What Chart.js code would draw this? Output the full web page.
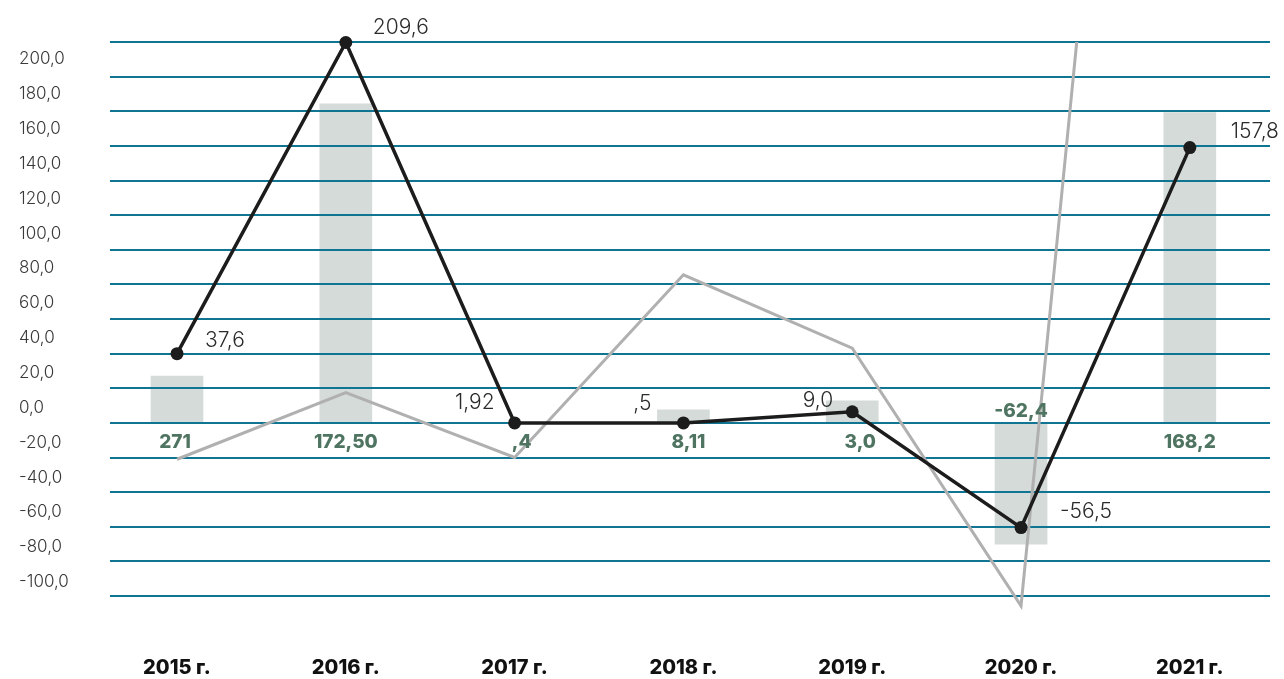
<!DOCTYPE html>
<html>
<head>
<meta charset="utf-8">
<script src="https://cdn.jsdelivr.net/npm/chart.js@4"></script>
<style>
  html, body { margin: 0; padding: 0; background: #fff; }
  #wrap { width: 1284px; height: 679px; }
</style>
</head>
<body>
<div id="wrap"><canvas id="chart"></canvas></div>
<script>
// Values.
const years = ['2015 г.', '2016 г.', '2017 г.', '2018 г.', '2019 г.', '2020 г.', '2021 г.'];
const barValues = [27.1, 184.3, null, 7.5, 12.7, -70.1, 179.3];
const barLabels = ['271', '172,50', ',4', '8,11', '3,0', '-62,4', '168,2'];
const blackValues = [40.0, 219.7, 0, 0, 6.4, -60.5, 159.0];
const blackLabels = ['37,6', '209,6', '1,92', ',5', '9,0', '-56,5', '157,8'];
const greyValues = [-21.0, 17.5, -20.0, 85.5, 43.2, -105.7, 881];

// Label placement around each point (style only): dx, dy, align.
const lineLabelPlace = [
  [28, -13, 'left'], [27, -15, 'left'], [-20, -20, 'right'], [-32, -19, 'right'],
  [-19, -11, 'right'], [39, -16, 'left'], [41, -16, 'left']
];
const barLabelShift = [-2, 0, 7, 5, 8, 0, 0];

const TEAL = '#107592';
const fmt = (v) => v.toFixed(1).replace('.', ',');
const xy = (vals) => vals.map((v, i) => ({ x: i, y: v }));

const valueLabels = {
  id: 'valueLabels',
  // gridlines sit over the bars but under the lines
  afterDatasetDraw(chart, args) {
    if (args.meta.type === 'bar') chart.scales.y.drawGrid(chart.chartArea);
  },
  afterDatasetsDraw(chart) {
    const { ctx, scales: { x, y } } = chart;
    const zero = y.getPixelForValue(0);
    ctx.save();
    ctx.textBaseline = 'middle';
    ctx.textAlign = 'center';
    ctx.font = '800 19px Inter';
    ctx.fillStyle = '#4f7461';
    barLabels.forEach((t, i) => {
      const v = barValues[i];
      const py = v !== null && v < 0 ? zero - 12 : zero + 19;
      ctx.fillText(t, x.getPixelForValue(i) + barLabelShift[i], py);
    });
    const pts = chart.getDatasetMeta(2).data;
    ctx.font = '300 21px Inter';
    ctx.fillStyle = '#2b2b2b';
    blackLabels.forEach((t, i) => {
      const [dx, dy, align] = lineLabelPlace[i];
      ctx.textAlign = align;
      ctx.fillText(t, pts[i].x + dx, pts[i].y + dy);
    });
    ctx.restore();
  }
};

new Chart(document.getElementById('chart'), {
  type: 'bar',
  data: {
    datasets: [
      {
        type: 'bar', data: xy(barValues), backgroundColor: '#d5dbd9',
        barThickness: 52, order: 3
      },
      {
        type: 'line', data: xy(greyValues), borderColor: '#b0b0b0', borderWidth: 3,
        pointRadius: 0, tension: 0, order: 2,
        clip: { left: false, top: 0, right: false, bottom: false }
      },
      {
        type: 'line', data: xy(blackValues), borderColor: '#1c1c1c', borderWidth: 3.5,
        pointRadius: 6.5, pointBorderWidth: 0, pointBackgroundColor: '#1c1c1c',
        tension: 0, order: 1, clip: false
      }
    ]
  },
  options: {
    responsive: true, maintainAspectRatio: false, animation: false,
    layout: { padding: { left: 19, top: 42, right: 14, bottom: 0 } },
    plugins: { legend: { display: false }, tooltip: { enabled: false } },
    scales: {
      x: {
        type: 'linear', min: -0.397, max: 6.475, offset: false,
        grid: { display: false }, border: { display: false },
        afterFit: (s) => { s.height = 83; },
        ticks: {
          stepSize: 1, includeBounds: false, autoSkip: false, maxRotation: 0, padding: 52,
          color: '#111', font: { family: 'Inter', size: 20, weight: '800' },
          callback: (v) => Number.isInteger(v) ? years[v] : ''
        }
      },
      y: {
        min: -100, max: 220,
        grid: { color: TEAL, lineWidth: 2, drawTicks: false },
        border: { display: false },
        ticks: { display: false, stepSize: 20 },
        afterFit: (s) => { s.width = 0; }
      },
      y2: {
        position: 'left', min: -108.0, max: 209.8,
        grid: { display: false, drawTicks: false }, border: { display: false },
        afterFit: (s) => { s.width = 91; },
        ticks: {
          stepSize: 20, includeBounds: false, crossAlign: 'far', padding: 0,
          color: '#3a3a3a', font: { family: 'Inter', size: 17, weight: '300' },
          callback: (v) => fmt(v)
        }
      }
    }
  },
  plugins: [valueLabels]
});
</script>
</body>
</html>
